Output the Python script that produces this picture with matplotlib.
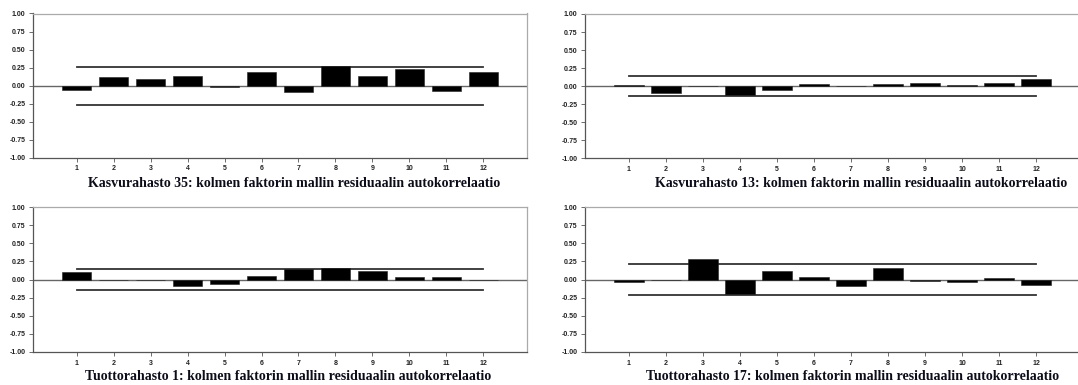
import matplotlib
matplotlib.use("Agg")
import matplotlib.pyplot as plt
import numpy as np

lags = [1, 2, 3, 4, 5, 6, 7, 8, 9, 10, 11, 12]
y_ticks = [-1.00, -0.75, -0.50, -0.25, 0.00, 0.25, 0.50, 0.75, 1.00]

acf_kasvu35 = [-0.06, 0.125, 0.088, 0.13, -0.023, 0.185, -0.093, 0.278, 0.139, 0.231, -0.069, 0.185]
conf_kasvu35 = 0.264
acf_kasvu13 = [0.014, -0.10, 0.0, -0.125, -0.05, 0.028, 0.0, 0.028, 0.042, 0.014, 0.046, 0.097]
conf_kasvu13 = 0.134
acf_tuotto1 = [0.097, 0.0, 0.0, -0.083, -0.056, 0.051, 0.144, 0.157, 0.111, 0.028, 0.028, 0.0]
conf_tuotto1 = 0.146
acf_tuotto17 = [-0.032, 0.0, 0.282, -0.204, 0.111, 0.037, -0.088, 0.162, -0.019, -0.032, 0.023, -0.074]
conf_tuotto17 = 0.213

titles = [
    "Kasvurahasto 35: kolmen faktorin mallin residuaalin autokorrelaatio",
    "Kasvurahasto 13: kolmen faktorin mallin residuaalin autokorrelaatio",
    "Tuottorahasto 1: kolmen faktorin mallin residuaalin autokorrelaatio",
    "Tuottorahasto 17: kolmen faktorin mallin residuaalin autokorrelaatio",
]

W, H = 1078, 385
fig = plt.figure(figsize=(W / 100, H / 100), dpi=100)
fig.patch.set_facecolor("white")

# (left, top, right, bottom) in pixels
boxes = [(33, 13.5, 527, 157.7), (585, 14, 1080, 158.3),
         (33, 207, 527, 352), (585, 207, 1080, 352)]
title_pos = [(294, 183), (861, 183), (288, 376), (853, 376)]
series = [(acf_kasvu35, conf_kasvu35), (acf_kasvu13, conf_kasvu13),
          (acf_tuotto1, conf_tuotto1), (acf_tuotto17, conf_tuotto17)]

for (l, t, r, b), (vals, conf), title, (tx, ty) in zip(boxes, series, titles, title_pos):
    ax = fig.add_axes([l / W, 1 - b / H, (r - l) / W, (b - t) / H])
    ax.bar(lags, vals, width=0.8, color="black", edgecolor="#222222", linewidth=0.4, zorder=3)
    ax.axhline(0, color="#666666", linewidth=1.0, zorder=2)
    ax.plot([lags[0], lags[-1]], [conf, conf], color="#333333", linewidth=1.3, zorder=2)
    ax.plot([lags[0], lags[-1]], [-conf, -conf], color="#333333", linewidth=1.3, zorder=2)
    ax.set_xlim(-0.18, 13.18)
    ax.set_ylim(-1, 1)
    ax.set_yticks(y_ticks)
    ax.set_yticklabels([f"{v:.2f}" for v in y_ticks])
    ax.set_xticks(lags)
    ax.set_xticklabels([str(v) for v in lags])
    for lab in ax.get_xticklabels() + ax.get_yticklabels():
        lab.set_fontfamily("Liberation Sans")
        lab.set_fontweight("bold")
        lab.set_fontsize(5.0)
        lab.set_color("#222222")
    ax.tick_params(axis="both", length=3, width=0.6, color="#555555", pad=2.5)
    ax.spines["left"].set_color("#555555")
    ax.spines["bottom"].set_color("#555555")
    ax.spines["top"].set_color("#aaaaaa")
    ax.spines["right"].set_color("#aaaaaa")
    for s in ax.spines.values():
        s.set_linewidth(0.9)
    fig.text(tx / W, 1 - ty / H, title, ha="center", va="center",
             fontfamily="Liberation Serif", fontweight="bold", fontsize=10,
             color="#0d0d1a")

fig.savefig("out.png", dpi=100)
